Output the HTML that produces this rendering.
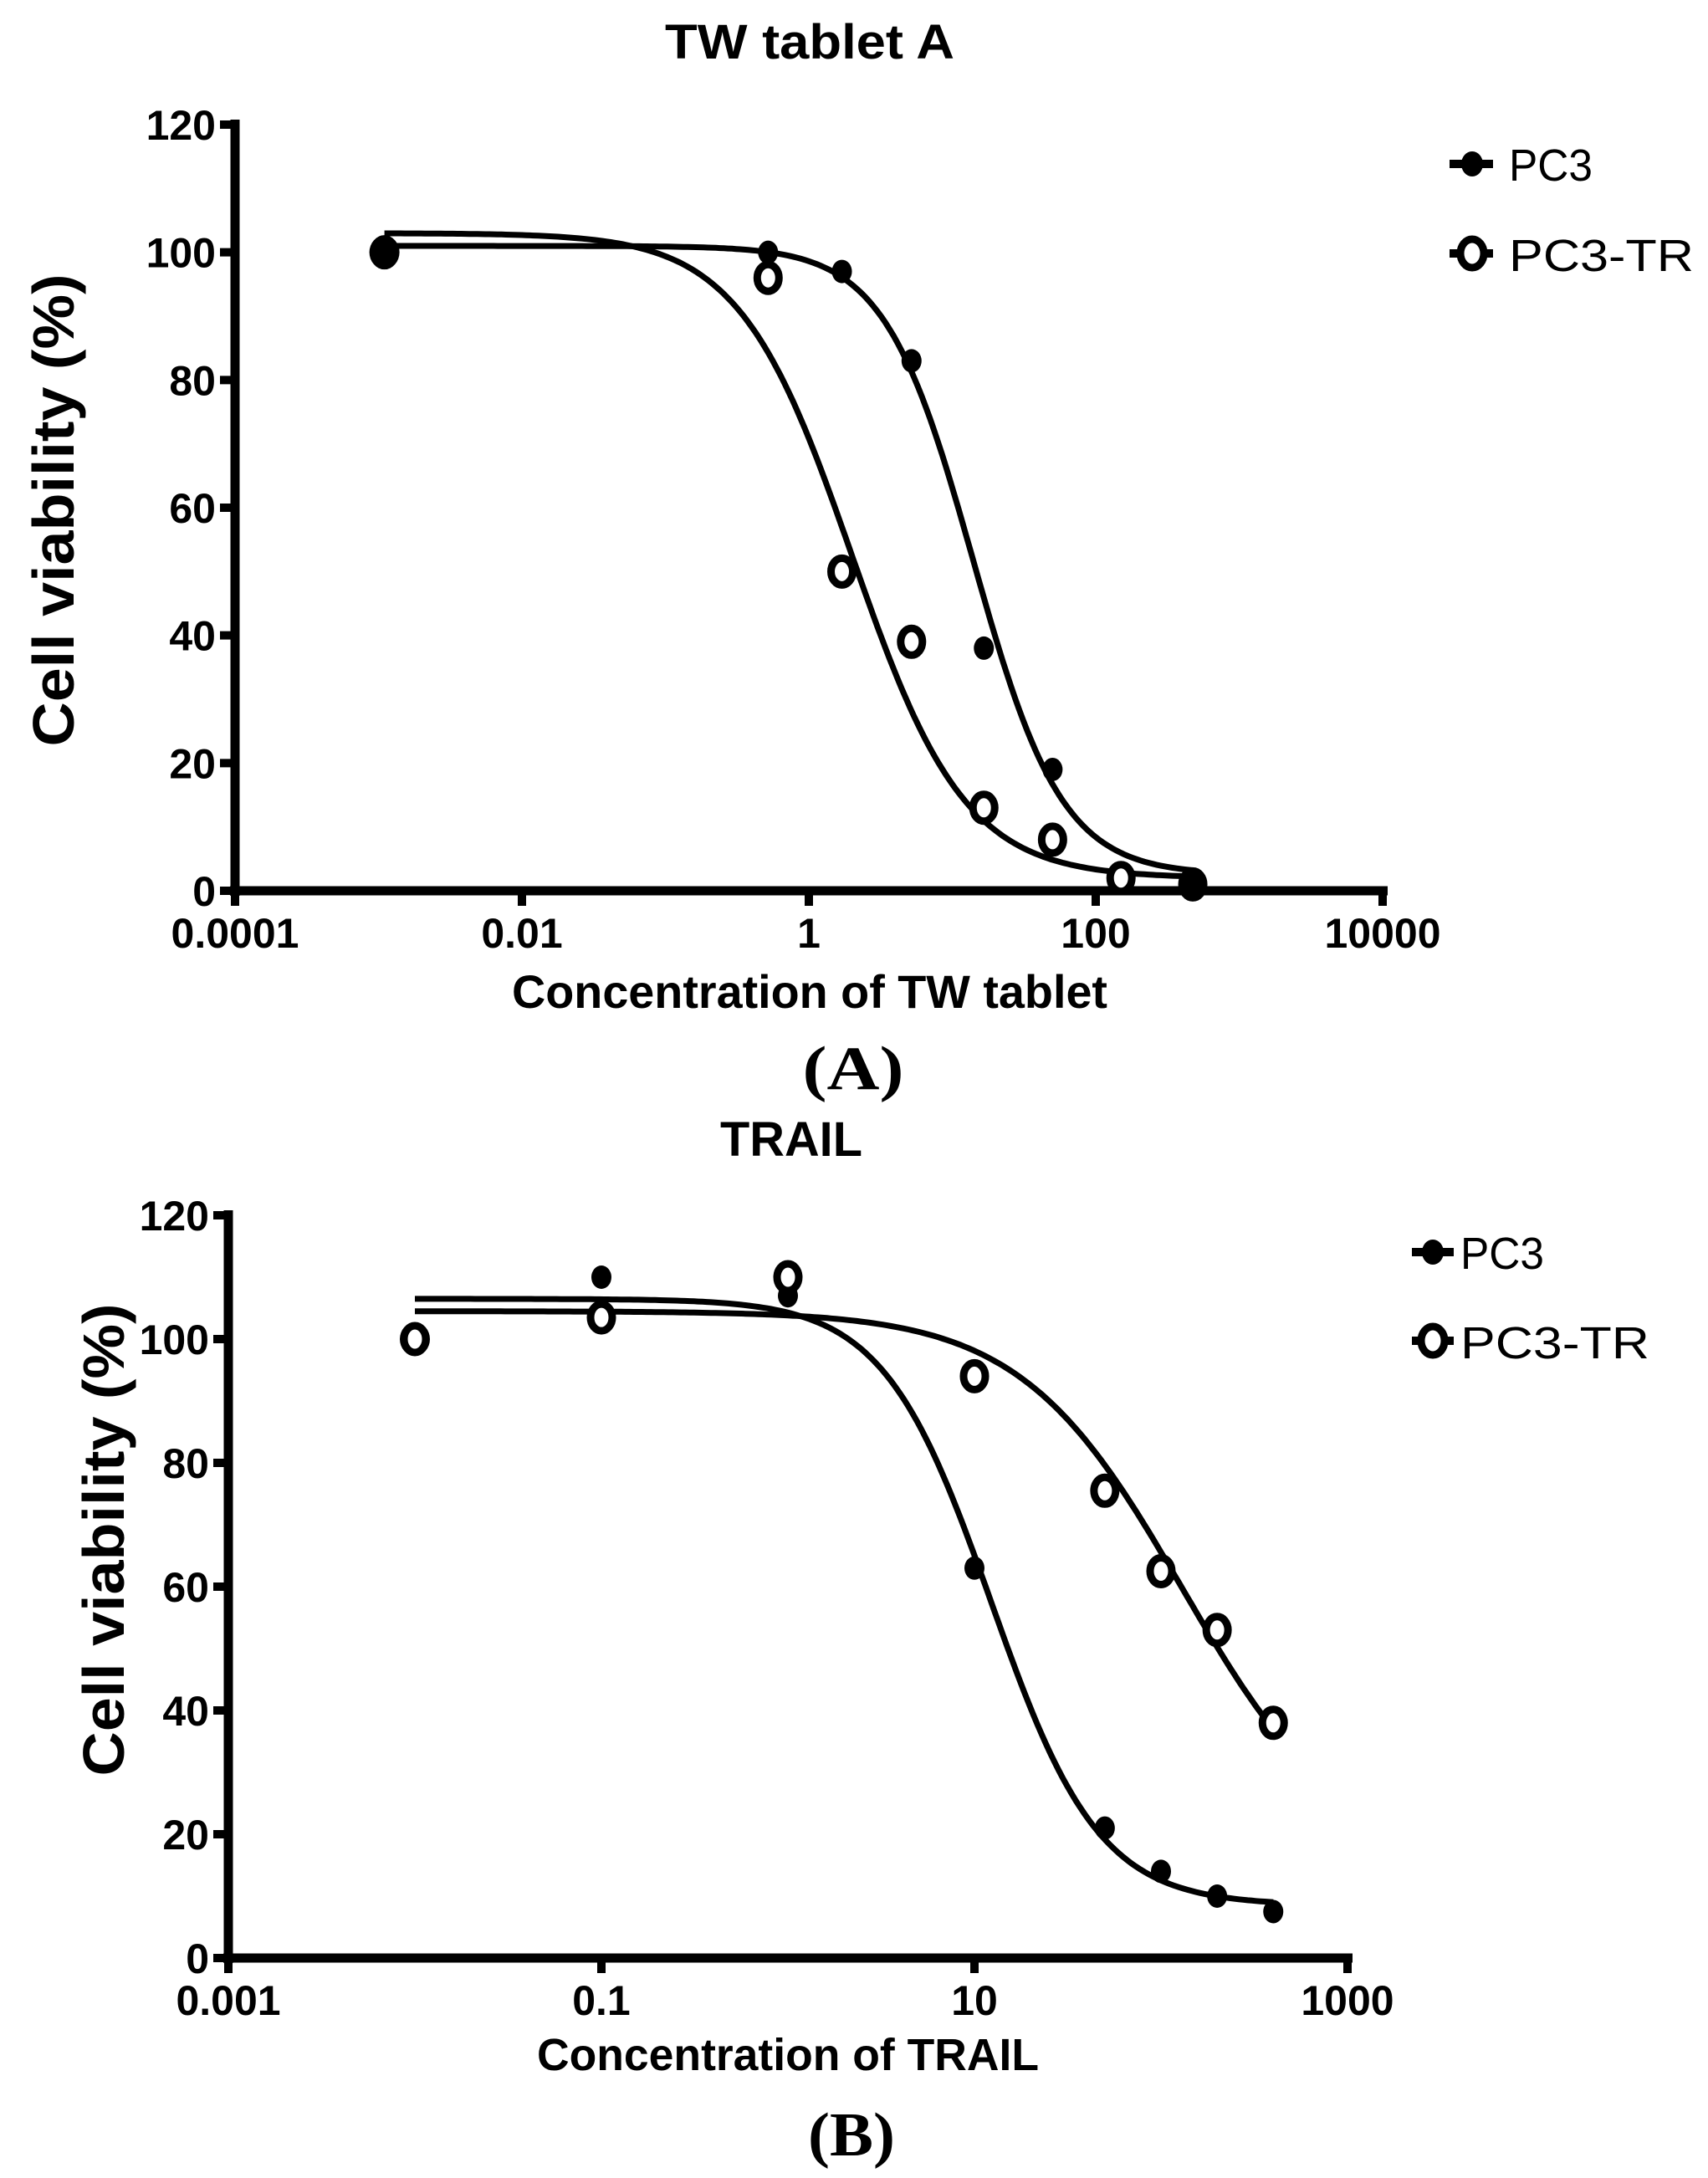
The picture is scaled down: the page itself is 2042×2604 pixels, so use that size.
<!DOCTYPE html>
<html><head><meta charset="utf-8"><style>
html,body{margin:0;padding:0;background:#fff;}
svg{display:block;}
text{font-family:"Liberation Sans",sans-serif;fill:#000;}
</style></head><body>
<svg id="fig" width="2042" height="2604" viewBox="0 0 2042 2604" xmlns="http://www.w3.org/2000/svg">
<g id="panelA"></g>
<g id="panelB"></g>
</svg>
<script>
// ---- Panel A data ----
const aXTicks = [0.0001, 0.01, 1, 100, 10000];
const aXTickLabels = ["0.0001", "0.01", "1", "100", "10000"];
const yTicks = [0, 20, 40, 60, 80, 100, 120];
const aConcPC3 = [0.0011, 0.52, 1.7, 5.2, 16.6, 50, 475];
const aValPC3 = [100, 100, 97, 83, 38, 19, 1];
const aConcTR = [0.0011, 0.52, 1.7, 5.2, 16.6, 50, 150, 475];
const aValTR = [100, 96, 50, 39, 13, 8, 2, 1];
const aFitPC3 = [101, 2.5, 14, 1.4];   // top, bottom, IC50, hill
const aFitTR = [103, 2, 2.0, 1.1];
// ---- Panel B data ----
const bXTicks = [0.001, 0.1, 10, 1000];
const bXTickLabels = ["0.001", "0.1", "10", "1000"];
const bConc = [0.01, 0.1, 1, 10, 50, 100, 200, 400];
const bValPC3 = [100, 110, 107, 63, 21, 14, 10, 7.5];
const bValTR = [100, 103.5, 110, 94, 75.5, 62.5, 53, 38];
const bFitPC3 = [106.5, 8.5, 12.3, 1.5];
const bFitTR = [104.5, 15, 130, 1.0];

const NS = "http://www.w3.org/2000/svg";
function mk(tag, attrs, parent){
  const e = document.createElementNS(NS, tag);
  for (const k in attrs) e.setAttribute(k, attrs[k]);
  parent.appendChild(e);
  return e;
}
function fit(p, x){ return p[1] + (p[0]-p[1])/(1+Math.pow(x/p[2], p[3])); }

function drawPanel(g, cfg){
  const lx0 = Math.log10(cfg.xmin), lx1 = Math.log10(cfg.xmax);
  const X = v => cfg.px0 + (Math.log10(v)-lx0)/(lx1-lx0)*(cfg.px1-cfg.px0);
  const Y = v => cfg.py0 + (v/120)*(cfg.py1-cfg.py0);
  const yAxis = mk('line', {x1:cfg.px0, y1:Y(120)-6, x2:cfg.px0, y2:Y(0)+6, stroke:'#000','stroke-width':11}, g);
  
  
  const xAxis = mk('line', {x1:cfg.px0-6, y1:Y(0), x2:cfg.px1+6, y2:Y(0), stroke:'#000','stroke-width':11}, g);
  
  
  yTicks.forEach(t => {
    const tk = mk('line', {x1:cfg.px0-18, y1:Y(t), x2:cfg.px0, y2:Y(t), stroke:'#000','stroke-width':10}, g);
    
    
    const lb = mk('text', {x:cfg.px0-23, y:Y(t)+18, 'text-anchor':'end','font-size':50,'font-weight':'bold'}, g);
    lb.textContent = String(t);
    
    
  });
  cfg.xticks.forEach((t,i) => {
    const tk = mk('line', {x1:X(t), y1:Y(0), x2:X(t), y2:Y(0)+18, stroke:'#000','stroke-width':10}, g);
    
    
    const lb = mk('text', {x:X(t), y:Y(0)+68, 'text-anchor':'middle','font-size':50,'font-weight':'bold'}, g);
    lb.textContent = cfg.xlabels[i];
    
    
  });
  cfg.curves.forEach(c => {
    let d = '';
    const l0 = Math.log10(c.from), l1 = Math.log10(c.to);
    for (let i=0;i<=200;i++){
      const x = Math.pow(10, l0 + (l1-l0)*i/200);
      d += (i?'L':'M') + X(x).toFixed(1) + ',' + Y(fit(c.p, x)).toFixed(1);
    }
    const p = mk('path', {d:d, fill:'none', stroke:'#000','stroke-width':7}, g);
    
    
  });
  cfg.series.forEach(s => {
    s.x.forEach((xv,i) => {
      let el;
      if (s.hollow) {
        el = mk('ellipse', {cx:X(xv), cy:Y(s.y[i]), rx:13, ry:16, fill:'#fff', stroke:'#000','stroke-width':9}, g);
      } else {
        const r = (i===0) ? 18 : 12;
        el = mk('ellipse', {cx:X(xv), cy:Y(s.y[i]), rx:r, ry:r+2, fill:'#000'}, g);
      }
      
      
    });
  });
}

drawPanel(document.getElementById('panelA'), {
  xmin:0.0001, xmax:10000, px0:281, px1:1653, py0:1065, py1:149,
  xticks:aXTicks, xlabels:aXTickLabels,
  curves:[{p:aFitTR, from:0.0011, to:475, name:'pc3-tr-fit-curve'},{p:aFitPC3, from:0.0011, to:475, name:'pc3-fit-curve'}],
  series:[{x:aConcTR, y:aValTR, hollow:true, name:'pc3-tr-point'},{x:aConcPC3, y:aValPC3, hollow:false, name:'pc3-point'}]
});
drawPanel(document.getElementById('panelB'), {
  xmin:0.001, xmax:1000, px0:273, px1:1611, py0:2341, py1:1453,
  xticks:bXTicks, xlabels:bXTickLabels,
  curves:[{p:bFitTR, from:0.01, to:400, name:'pc3-tr-fit-curve'},{p:bFitPC3, from:0.01, to:400, name:'pc3-fit-curve'}],
  series:[{x:bConc, y:bValPC3, hollow:false, name:'pc3-point'},{x:bConc, y:bValTR, hollow:true, name:'pc3-tr-point'}]
});
</script>
<svg width="2042" height="2604" viewBox="0 0 2042 2604" style="position:absolute;left:0;top:0" xmlns="http://www.w3.org/2000/svg">
  <text x="968" y="70" text-anchor="middle" font-size="58" font-weight="bold" textLength="346" lengthAdjust="spacingAndGlyphs">TW tablet A</text>
  <text transform="translate(88,610) rotate(-90)" text-anchor="middle" font-size="70" font-weight="bold" textLength="565" lengthAdjust="spacingAndGlyphs">Cell viability (%)</text>
  <text x="968" y="1205" text-anchor="middle" font-size="56" font-weight="bold" textLength="712" lengthAdjust="spacingAndGlyphs">Concentration of TW tablet</text>
  <text x="1020" y="1302" text-anchor="middle" font-size="74" font-weight="bold" textLength="121" lengthAdjust="spacingAndGlyphs" style="font-family:'Liberation Serif',serif">(A)</text>
  <g>
    <line x1="1733" y1="196" x2="1785" y2="196" stroke="#000" stroke-width="10"/>
    <ellipse cx="1760" cy="196" rx="13" ry="15" fill="#000"/>
    <text x="1804" y="216" font-size="54" textLength="100" lengthAdjust="spacingAndGlyphs">PC3</text>
    <line x1="1733" y1="303" x2="1785" y2="303" stroke="#000" stroke-width="10"/>
    <ellipse cx="1760" cy="303" rx="14" ry="17" fill="#fff" stroke="#000" stroke-width="9"/>
    <text x="1804" y="324" font-size="54" textLength="221" lengthAdjust="spacingAndGlyphs">PC3-TR</text>
  </g>
  <text x="946" y="1382" text-anchor="middle" font-size="58" font-weight="bold" textLength="170" lengthAdjust="spacingAndGlyphs">TRAIL</text>
  <text transform="translate(148,1841) rotate(-90)" text-anchor="middle" font-size="70" font-weight="bold" textLength="565" lengthAdjust="spacingAndGlyphs">Cell viability (%)</text>
  <text x="942" y="2475" text-anchor="middle" font-size="54" font-weight="bold" textLength="600" lengthAdjust="spacingAndGlyphs">Concentration of TRAIL</text>
  <text x="1018" y="2577" text-anchor="middle" font-size="74" font-weight="bold" textLength="104" lengthAdjust="spacingAndGlyphs" style="font-family:'Liberation Serif',serif">(B)</text>
  <g>
    <line x1="1688" y1="1497" x2="1738" y2="1497" stroke="#000" stroke-width="10"/>
    <ellipse cx="1713" cy="1497" rx="13" ry="15" fill="#000"/>
    <text x="1746" y="1517" font-size="54" textLength="100" lengthAdjust="spacingAndGlyphs">PC3</text>
    <line x1="1688" y1="1603" x2="1738" y2="1603" stroke="#000" stroke-width="10"/>
    <ellipse cx="1713" cy="1603" rx="14" ry="17" fill="#fff" stroke="#000" stroke-width="9"/>
    <text x="1746" y="1624" font-size="54" textLength="226" lengthAdjust="spacingAndGlyphs">PC3-TR</text>
  </g>
</svg>
</body></html>
